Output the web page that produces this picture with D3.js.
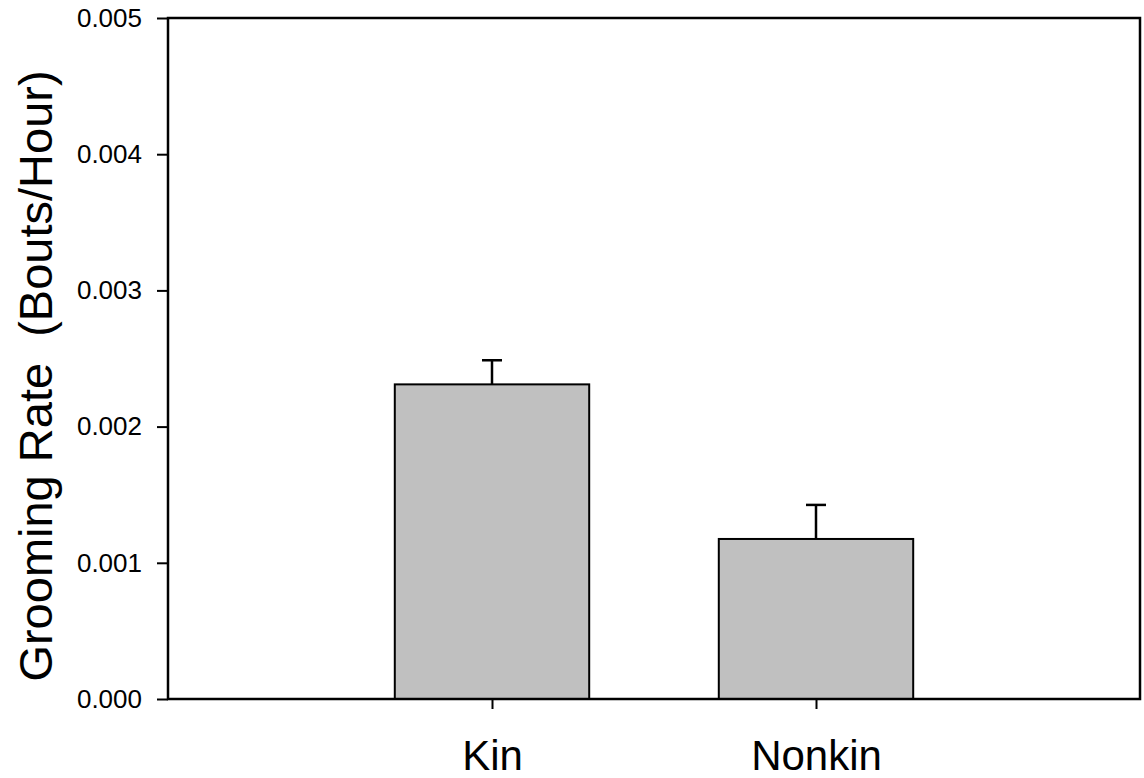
<!DOCTYPE html>
<html>
<head>
<meta charset="utf-8">
<script src="https://cdn.jsdelivr.net/npm/d3@7"></script>
<style>
  html, body { margin: 0; padding: 0; background: #fff; }
  svg { display: block; font-family: "Liberation Sans", Arial, sans-serif; }
</style>
</head>
<body>
<svg id="chart" width="1144" height="778"></svg>
<script>
// Grooming rate by relatedness (mean with upper standard error)
const categories = ["Kin", "Nonkin"];
const meanRate = [0.00231, 0.001175];
const stdError = [0.000177, 0.00025];
const yTicks = [0, 0.001, 0.002, 0.003, 0.004, 0.005];
const yTickLabels = ["0.000", "0.001", "0.002", "0.003", "0.004", "0.005"];
const yTitle = "Grooming Rate  (Bouts/Hour)";

const svg = d3.select("#chart");
const plot = { left: 168, right: 1140, top: 18, bottom: 699 };

// Categories sit at 1 and 2 on a 0..3 linear axis
const x = d3.scaleLinear().domain([0, 3]).range([plot.left, plot.right]);
const y = d3.scaleLinear().domain([0, 0.005]).range([plot.bottom, plot.top]);
const barWidth = (x(1) - x(0)) * 0.6;

// Bars
svg.append("g").selectAll("rect")
  .data(categories)
  .join("rect")
  .attr("x", (d, i) => x(i + 1) - barWidth / 2)
  .attr("y", (d, i) => y(meanRate[i]))
  .attr("width", barWidth)
  .attr("height", (d, i) => y(0) - y(meanRate[i]))
  .attr("fill", "#c0c0c0")
  .attr("stroke", "#000")
  .attr("stroke-width", 2);

// Upper error bars
const eb = svg.append("g").attr("stroke", "#000").attr("stroke-width", 2.5);
categories.forEach((c, i) => {
  const cx = x(i + 1);
  eb.append("line")
    .attr("x1", cx).attr("x2", cx)
    .attr("y1", y(meanRate[i])).attr("y2", y(meanRate[i] + stdError[i]));
  eb.append("line")
    .attr("x1", cx - 10).attr("x2", cx + 10)
    .attr("y1", y(meanRate[i] + stdError[i])).attr("y2", y(meanRate[i] + stdError[i]));
});

// Frame
svg.append("rect")
  .attr("x", plot.left).attr("y", plot.top)
  .attr("width", plot.right - plot.left).attr("height", plot.bottom - plot.top)
  .attr("fill", "none").attr("stroke", "#000").attr("stroke-width", 2.5);

// Y axis
const yAxis = svg.append("g")
  .attr("transform", `translate(${plot.left},0)`)
  .call(d3.axisLeft(y).tickValues(yTicks)
    .tickFormat((d, i) => yTickLabels[i]).tickSize(11).tickPadding(15));
yAxis.select(".domain").remove();
yAxis.selectAll(".tick line").attr("stroke", "#000").attr("stroke-width", 2);
yAxis.selectAll(".tick text")
  .attr("font-size", 26).attr("fill", "#000")
  .attr("font-family", "Liberation Sans, Arial, sans-serif");

// X axis
const xAxis = svg.append("g")
  .attr("transform", `translate(0,${plot.bottom})`)
  .call(d3.axisBottom(x).tickValues([1, 2])
    .tickFormat((d) => categories[d - 1]).tickSize(10).tickPadding(31));
xAxis.select(".domain").remove();
xAxis.selectAll(".tick line").attr("stroke", "#000").attr("stroke-width", 2);
xAxis.selectAll(".tick text")
  .attr("font-size", 42).attr("fill", "#000")
  .attr("font-family", "Liberation Sans, Arial, sans-serif");

// Y title (double space before the units, kept with white-space: pre)
svg.append("text")
  .attr("transform", `translate(52,376) rotate(-90)`)
  .attr("text-anchor", "middle")
  .attr("font-size", 47)
  .attr("fill", "#000")
  .style("white-space", "pre")
  .text(yTitle);
</script>
</body>
</html>
